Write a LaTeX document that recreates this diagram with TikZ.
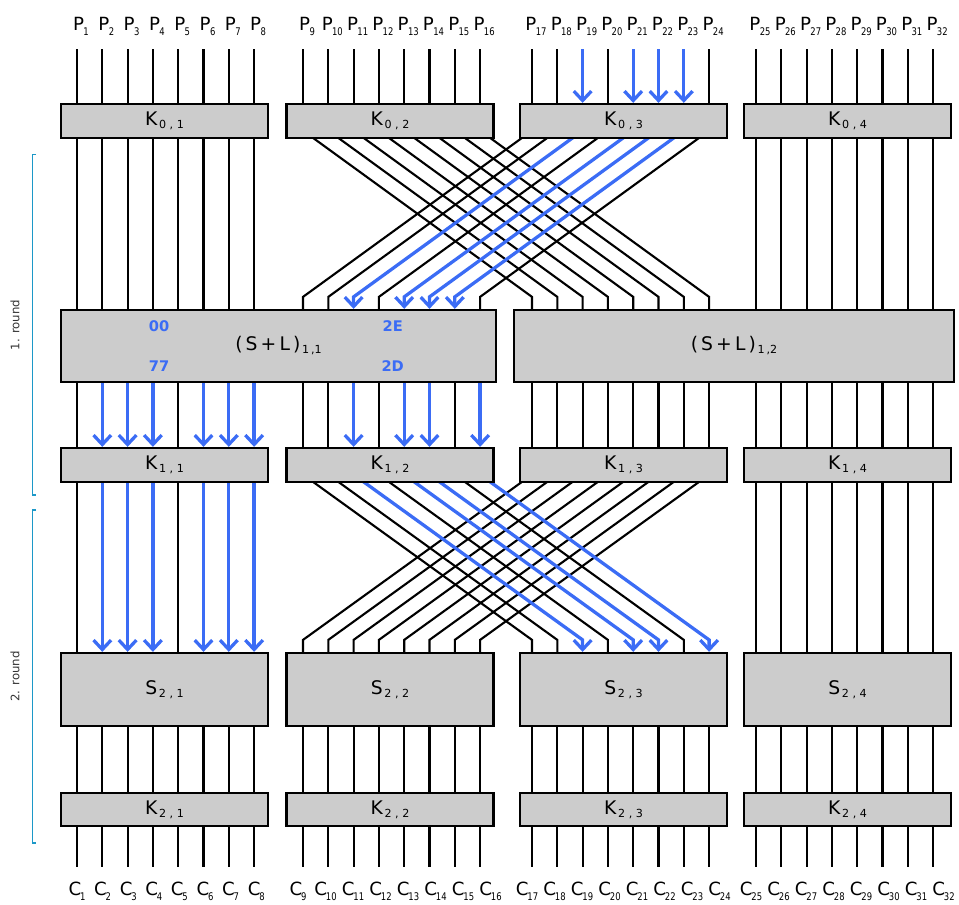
\documentclass[tikz,border=0pt]{standalone}
\usepackage{graphicx}
\usepackage{fontspec}
\setmainfont{DejaVu Sans}
\usetikzlibrary{arrows.meta,positioning,calc,backgrounds}

\definecolor{hlblue}{RGB}{59,108,245}
\definecolor{roundcyan}{RGB}{28,152,200}
\definecolor{boxgray}{RGB}{204,204,204}

\newcommand{\pidx}[1]{\raisebox{-4.4pt}{\scalebox{0.8}[1]{\fontsize{9pt}{10pt}\selectfont #1}}}
\newcommand{\kidx}[1]{\hspace{1.5pt}\raisebox{-2.6pt}{\fontsize{9.5pt}{10pt}\selectfont #1}}

\begin{document}
\begin{tikzpicture}[
  x=0.3mm, y=-0.3mm,
  lbl/.style={inner sep=0pt, font=\fontsize{15.5pt}{18pt}\selectfont},
  kbox/.style={draw, line width=2.2pt, fill=boxgray, minimum width=62mm, minimum height=10.1mm, inner sep=0pt, font=\fontsize{16pt}{18pt}\selectfont},
  sbox/.style={kbox, minimum height=21.8mm},
  slbox/.style={kbox, minimum height=21.5mm},
  wire/.style={line width=1.8pt, black},
  hlarrow/.style={line width=2.8pt, hlblue, -{Straight Barb[length=8pt, width=15pt]}},
  hexval/.style={text=hlblue, font=\fontsize{12.5pt}{14pt}\selectfont\bfseries},
  roundlbl/.style={rotate=90, font=\fontsize{10pt}{11pt}\selectfont, text=black!80},
  bracket/.style={roundcyan, line width=1pt}
]
  \useasboundingbox (0,0) rectangle (959,904);

  % wire positions
  \foreach \g/\gs in {0/77,1/303,2/532,3/756}
    \foreach \i in {0,...,7} {
      \pgfmathtruncatemacro\n{8*\g+\i+1}
      \coordinate (w\n) at (\gs+25.3*\i, 49);
    }

  % boxes
  \foreach \g/\cx in {1/164.5,2/390,3/623.5,4/847.5} {
    \node[kbox] (k0\g) at (\cx,121) {K\kidx{0 , \g}};
    \node[kbox] (k1\g) at (\cx,465) {K\kidx{1 , \g}};
    \node[sbox] (s2\g) at (\cx,689.5) {S\kidx{2 , \g}};
    \node[kbox, minimum height=9.8mm] (k2\g) at (\cx,809.5) {K\kidx{2 , \g}};
  }
  \node[slbox, minimum width=130.4mm] (sl11) at (278.5,346) {(\,S\,+\,L\,)\kidx{1\,,1}};
  \node[slbox, minimum width=131.9mm] (sl12) at (734,346) {(\,S\,+\,L\,)\kidx{1\,,2}};

  \node[hexval] (v00) at (159,325.7) {00};
  \node[hexval] (v77) at (159,366) {77};
  \node[hexval] (v2e) at (392.7,325.7) {2E};
  \node[hexval] (v2d) at (392.7,366) {2D};

  % plaintext and ciphertext labels
  \foreach \n in {1,...,32} {
    \pgfmathtruncatemacro\i{mod(\n-1,8)}
    \pgfmathsetmacro\off{\n>8 ? -5+2.2*\i : 0.3*\i}
    \node[lbl, anchor=base] (p\n) at ($(w\n)+(4,-19)$) {P\kern-0.5pt\pidx{\n}};
    \node[lbl, anchor=base] (c\n) at ($(w\n)+(\off,846)$) {C\kern-1pt\pidx{\n}};
  }

  \begin{scope}[on background layer]
    % input wires
    \foreach \n in {1,...,18,20,24,25,...,32} {
      \pgfmathtruncatemacro\g{(\n-1)/8+1}
      \draw[wire] (w\n) -- (w\n |- k0\g.north);
    }
    \foreach \n in {19,21,22,23}
      \draw[hlarrow] (w\n) -- (w\n |- k03.north);

    % round 1: K0 -> (S+L)
    \foreach \n in {1,...,8}
      \draw[wire] (w\n |- k01.south) -- (w\n |- sl11.north);
    \foreach \n in {25,...,32}
      \draw[wire] (w\n |- k04.south) -- (w\n |- sl12.north);
    \foreach \i in {1,...,8} {
      \pgfmathtruncatemacro\n{8+\i}
      \pgfmathtruncatemacro\m{16+\i}
      \draw[wire] ($(w\n |- k02.south)+(0,-8.5)$) -- ($(w\m |- sl12.north)+(0,-12)$) -- (w\m |- sl12.north);
    }
    \foreach \i in {1,2,4,8} {
      \pgfmathtruncatemacro\n{16+\i}
      \pgfmathtruncatemacro\m{8+\i}
      \draw[wire] ($(w\n |- k03.south)+(0,-8.5)$) -- ($(w\m |- sl11.north)+(0,-12)$) -- (w\m |- sl11.north);
    }
    \foreach \i in {3,5,6,7} {
      \pgfmathtruncatemacro\n{16+\i}
      \pgfmathtruncatemacro\m{8+\i}
      \draw[hlarrow] ($(w\n |- k03.south)+(0,-8.5)$) -- ($(w\m |- sl11.north)+(0,-12)$) -- (w\m |- sl11.north);
    }

    % round 1: (S+L) -> K1
    \foreach \n in {1,5,9,10,12,15} {
      \pgfmathtruncatemacro\g{(\n-1)/8+1}
      \draw[wire] (w\n |- sl11.south) -- (w\n |- k1\g.north);
    }
    \foreach \n in {2,3,4,6,7,8,11,13,14,16} {
      \pgfmathtruncatemacro\g{(\n-1)/8+1}
      \draw[hlarrow] (w\n |- sl11.south) -- (w\n |- k1\g.north);
    }
    \foreach \n in {17,...,32} {
      \pgfmathtruncatemacro\g{(\n-1)/8+1}
      \draw[wire] (w\n |- sl12.south) -- (w\n |- k1\g.north);
    }

    % round 2: K1 -> S2
    \foreach \n in {1,5}
      \draw[wire] (w\n |- k11.south) -- (w\n |- s21.north);
    \foreach \n in {2,3,4,6,7,8}
      \draw[hlarrow] (w\n |- k11.south) -- (w\n |- s21.north);
    \foreach \n in {25,...,32}
      \draw[wire] (w\n |- k14.south) -- (w\n |- s24.north);
    \foreach \i in {1,...,8} {
      \pgfmathtruncatemacro\n{16+\i}
      \pgfmathtruncatemacro\m{8+\i}
      \draw[wire] ($(w\n |- k13.south)+(0,-8.5)$) -- ($(w\m |- s22.north)+(0,-12)$) -- (w\m |- s22.north);
    }
    \foreach \i in {1,2,4,7} {
      \pgfmathtruncatemacro\n{8+\i}
      \pgfmathtruncatemacro\m{16+\i}
      \draw[wire] ($(w\n |- k12.south)+(0,-8.5)$) -- ($(w\m |- s23.north)+(0,-12)$) -- (w\m |- s23.north);
    }
    \foreach \i in {3,5,6,8} {
      \pgfmathtruncatemacro\n{8+\i}
      \pgfmathtruncatemacro\m{16+\i}
      \draw[hlarrow] ($(w\n |- k12.south)+(0,-8.5)$) -- ($(w\m |- s23.north)+(0,-12)$) -- (w\m |- s23.north);
    }

    % S2 -> K2 -> output
    \foreach \n in {1,...,32} {
      \pgfmathtruncatemacro\g{(\n-1)/8+1}
      \draw[wire] (w\n |- s2\g.south) -- (w\n |- k2\g.north);
      \draw[wire] (w\n |- k2\g.south) -- ($(w\n)+(0,818)$);
    }
  \end{scope}

  % round brackets
  \draw[bracket] (36,154.3) -- (32.3,154.3) -- (32.3,495) -- (36,495);
  \node[roundlbl] (round1) at (15,325) {1. round};
  \draw[bracket] (36,510) -- (32.3,510) -- (32.3,843) -- (36,843);
  \node[roundlbl] (round2) at (15,676.5) {2. round};
\end{tikzpicture}
\end{document}
